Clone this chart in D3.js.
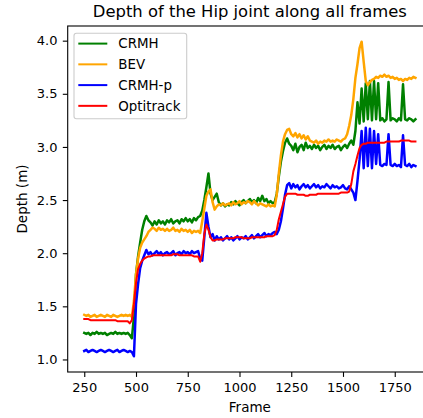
<!DOCTYPE html>
<html><head><meta charset="utf-8">
<script src="https://cdn.jsdelivr.net/npm/d3@7"></script>
<style>body{margin:0;background:#fff;} svg{display:block;font-family:"DejaVu Sans",sans-serif;}</style>
</head><body><svg id="chart" width="423" height="418"></svg>
<script>
// frame index (every 10th frame)
const frames = d3.range(250, 1851, 10);

const crmh = [
1.25,1.24,1.25,1.23,1.25,1.24,1.26,1.24,1.25,1.24,
1.25,1.23,1.24,1.25,1.24,1.26,1.24,1.25,1.24,1.25,
1.24,1.25,1.23,1.20,1.40,1.80,1.97,2.10,2.22,2.30,
2.35,2.31,2.29,2.26,2.30,2.27,2.31,2.28,2.30,2.27,
2.31,2.29,2.32,2.28,2.30,2.31,2.28,2.32,2.30,2.33,
2.30,2.32,2.29,2.33,2.31,2.34,2.35,2.40,2.50,2.62,
2.75,2.56,2.50,2.53,2.56,2.48,2.45,2.47,2.44,2.46,
2.45,2.48,2.46,2.49,2.47,2.45,2.48,2.50,2.47,2.49,
2.51,2.48,2.50,2.47,2.52,2.49,2.54,2.49,2.51,2.47,
2.49,2.47,2.48,2.56,2.72,2.86,2.96,3.04,3.08,3.03,
3.01,2.97,3.03,2.95,3.00,3.02,2.97,3.04,2.99,3.01,
2.98,3.02,2.99,3.01,2.97,3.00,3.02,2.98,3.01,2.99,
3.02,2.98,3.00,3.01,2.97,3.00,3.02,2.99,3.03,3.06,
3.02,3.15,3.42,3.22,3.55,3.24,3.60,3.26,3.62,3.25,
3.62,3.26,3.60,3.25,3.27,3.24,3.26,3.61,3.25,3.27,
3.26,3.24,3.27,3.25,3.59,3.26,3.25,3.27,3.26,3.24,
3.26];

const bev = [
1.42,1.41,1.42,1.40,1.41,1.42,1.40,1.41,1.42,1.41,
1.40,1.42,1.41,1.40,1.42,1.41,1.40,1.41,1.42,1.41,
1.42,1.41,1.42,1.40,1.55,1.80,1.95,2.05,2.10,2.13,
2.16,2.20,2.22,2.24,2.23,2.21,2.24,2.22,2.23,2.21,
2.23,2.21,2.22,2.24,2.21,2.22,2.20,2.23,2.21,2.22,
2.20,2.22,2.19,2.21,2.20,2.21,2.19,2.30,2.42,2.54,
2.58,2.60,2.48,2.41,2.44,2.46,2.45,2.47,2.45,2.46,
2.47,2.45,2.48,2.46,2.47,2.49,2.46,2.48,2.47,2.49,
2.48,2.46,2.49,2.47,2.45,2.47,2.46,2.45,2.44,2.46,
2.44,2.45,2.44,2.55,2.75,2.92,3.05,3.12,3.16,3.17,
3.12,3.10,3.13,3.09,3.12,3.08,3.11,3.07,3.10,3.06,
3.05,3.04,3.06,3.03,3.05,3.04,3.06,3.05,3.07,3.05,
3.06,3.05,3.07,3.06,3.05,3.07,3.08,3.12,3.20,3.30,
3.45,3.65,3.78,3.93,3.99,3.80,3.62,3.58,3.61,3.63,
3.64,3.66,3.65,3.67,3.66,3.68,3.66,3.67,3.65,3.66,
3.64,3.65,3.63,3.64,3.62,3.64,3.63,3.65,3.64,3.66,
3.65];

const crmhP = [
1.08,1.09,1.07,1.08,1.09,1.08,1.07,1.08,1.09,1.08,
1.07,1.08,1.09,1.08,1.07,1.08,1.09,1.07,1.08,1.09,
1.08,1.07,1.08,1.07,1.03,1.52,1.71,1.86,1.93,1.98,
2.03,1.99,2.01,1.98,2.00,2.02,1.99,2.01,1.98,2.00,
2.01,1.99,2.00,2.02,1.98,2.00,2.01,1.99,2.02,2.00,
2.01,1.99,2.02,2.00,2.01,2.02,1.95,1.93,2.15,2.38,
2.25,2.15,2.18,2.12,2.16,2.13,2.15,2.12,2.14,2.16,
2.13,2.15,2.12,2.14,2.16,2.13,2.15,2.14,2.16,2.13,
2.15,2.17,2.14,2.16,2.18,2.15,2.17,2.19,2.16,2.18,
2.17,2.19,2.20,2.18,2.22,2.30,2.42,2.55,2.64,2.66,
2.61,2.65,2.62,2.64,2.60,2.63,2.65,2.62,2.64,2.61,
2.63,2.65,2.62,2.64,2.61,2.63,2.62,2.65,2.63,2.61,
2.64,2.62,2.63,2.61,2.62,2.64,2.61,2.60,2.63,2.60,
2.57,2.50,2.68,2.88,3.15,2.80,3.18,2.82,3.17,2.80,
3.15,2.84,3.12,2.83,2.82,2.84,2.83,3.12,2.83,2.82,
2.84,2.82,2.83,2.81,3.11,2.83,2.82,2.84,2.81,2.83,
2.82];

const optitrack = [
1.38,1.38,1.38,1.37,1.37,1.37,1.37,1.37,1.37,1.37,
1.37,1.37,1.37,1.37,1.37,1.37,1.36,1.36,1.36,1.36,
1.36,1.36,1.34,1.37,1.52,1.72,1.85,1.90,1.93,1.95,
1.96,1.97,1.97,1.98,1.98,1.98,1.98,1.98,1.98,1.98,
1.98,1.98,1.98,1.99,1.99,1.99,1.98,1.98,1.98,1.98,
1.98,1.98,1.98,1.97,1.97,1.97,1.92,2.00,2.18,2.27,
2.22,2.15,2.12,2.12,2.13,2.13,2.13,2.13,2.14,2.14,
2.14,2.14,2.14,2.15,2.15,2.15,2.15,2.14,2.14,2.14,
2.14,2.15,2.15,2.15,2.15,2.15,2.15,2.15,2.16,2.16,
2.16,2.16,2.17,2.22,2.32,2.39,2.46,2.53,2.56,2.56,
2.56,2.56,2.56,2.55,2.55,2.55,2.55,2.54,2.54,2.55,
2.55,2.55,2.55,2.56,2.56,2.56,2.56,2.56,2.56,2.56,
2.56,2.56,2.56,2.56,2.57,2.57,2.57,2.57,2.58,2.65,
2.77,2.84,2.92,2.99,3.02,3.03,3.03,3.04,3.04,3.04,
3.04,3.04,3.04,3.04,3.04,3.04,3.05,3.05,3.05,3.05,
3.05,3.05,3.05,3.06,3.06,3.06,3.06,3.06,3.05,3.05,
3.05];

const seriesNames = ["CRMH", "BEV", "CRMH-p", "Optitrack"];
const seriesColors = ["green", "orange", "blue", "red"];
const xTicks = [250, 500, 750, 1000, 1250, 1500, 1750];
const yTicks = [1.0, 1.5, 2.0, 2.5, 3.0, 3.5, 4.0];
const titleText = "Depth of the Hip joint along all frames";
const xLabelText = "Frame";
const yLabelText = "Depth (m)";

const series = [crmh, bev, crmhP, optitrack].map((vals, i) => ({
  name: seriesNames[i], color: seriesColors[i],
  noisy: i < 3,
  points: vals.map((v, j) => [frames[j], v])
}));

const svg = d3.select("#chart");
const L = 67.7, R = 432, T = 26, B = 372;

// matplotlib-like 5% margins
const xExt = d3.extent(frames);
const xPad = (xExt[1] - xExt[0]) * 0.05;
const allVals = [].concat(crmh, bev, crmhP, optitrack);
const yExt = d3.extent(allVals);
const yPad = (yExt[1] - yExt[0]) * 0.05;

const x = d3.scaleLinear().domain([xExt[0] - xPad, xExt[1] + xPad]).range([L, R]);
const y = d3.scaleLinear().domain([yExt[0] - yPad, yExt[1] + yPad]).range([B, T]);

svg.append("rect").attr("width", 423).attr("height", 418).attr("fill", "#fff");

svg.append("clipPath").attr("id", "clip")
  .append("rect").attr("x", L).attr("y", T).attr("width", R - L).attr("height", B - T);

const line = d3.line().x(d => x(d[0])).y(d => y(d[1]));
const g = svg.append("g").attr("clip-path", "url(#clip)");
series.forEach(s => {
  g.append("path").datum(s.points)
    .attr("d", line)
    .attr("fill", "none")
    .attr("stroke", s.color)
    .attr("stroke-width", s.noisy ? 2.5 : 2)
    .attr("stroke-linejoin", "round")
    .attr("stroke-linecap", "square");
});

// axes
const xAxis = svg.append("g").attr("transform", `translate(0,${B})`)
  .call(d3.axisBottom(x).tickValues(xTicks).tickSize(4.9).tickPadding(6.2).tickFormat(d3.format("d")));
const yAxis = svg.append("g").attr("transform", `translate(${L},0)`)
  .call(d3.axisLeft(y).tickValues(yTicks).tickSize(4.9).tickPadding(5.3).tickFormat(d3.format(".1f")));
[xAxis, yAxis].forEach(a => {
  a.select(".domain").remove();
  a.selectAll(".tick line").attr("stroke", "#000").attr("stroke-width", 1.1);
  a.selectAll(".tick text").attr("fill", "#000").style("font-size", "13px")
    .style("font-family", '"DejaVu Sans", sans-serif');
});

// spines
svg.append("rect").attr("x", L).attr("y", T).attr("width", R - L).attr("height", B - T)
  .attr("fill", "none").attr("stroke", "#000").attr("stroke-width", 1.1);

// title and labels
svg.append("text").attr("x", (L + R) / 2).attr("y", 17)
  .attr("text-anchor", "middle").style("font-size", "16.4px").attr("fill", "#000").text(titleText);
svg.append("text").attr("x", (L + R) / 2).attr("y", 411.5)
  .attr("text-anchor", "middle").style("font-size", "13.5px").attr("fill", "#000").text(xLabelText);
svg.append("text").attr("transform", `translate(27,${(T + B) / 2}) rotate(-90)`)
  .attr("text-anchor", "middle").style("font-size", "13.5px").attr("fill", "#000").text(yLabelText);

// legend
const lg = svg.append("g");
lg.append("rect").attr("x", 74).attr("y", 33.3).attr("width", 112.7).attr("height", 85.5)
  .attr("rx", 2.5).attr("fill", "#fff").attr("fill-opacity", 0.8)
  .attr("stroke", "#cccccc").attr("stroke-width", 1.1);
series.forEach((s, i) => {
  const cy = 43.6 + i * 20.75;
  lg.append("line").attr("x1", 78.3).attr("x2", 107.3).attr("y1", cy).attr("y2", cy)
    .attr("stroke", s.color).attr("stroke-width", 2);
  lg.append("text").attr("x", 118.3).attr("y", cy).attr("dy", "0.36em")
    .style("font-size", "13.4px").attr("fill", "#000").text(s.name);
});
</script>
</body></html>
